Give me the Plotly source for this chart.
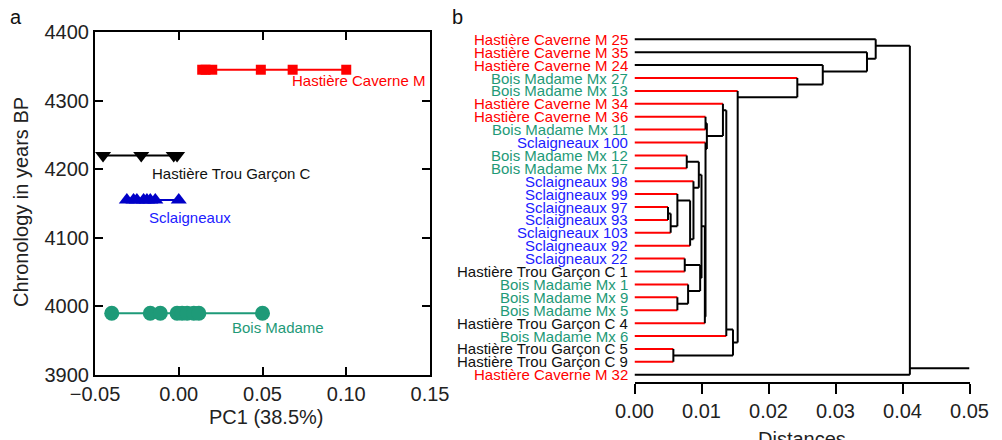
import plotly.graph_objects as go

# ---------------- Panel a data ----------------
group_names = ["Hastière Caverne M", "Hastière Trou Garçon C", "Sclaigneaux", "Bois Madame"]
chron_caverne = 4345
pc1_caverne = [0.014, 0.016, 0.020, 0.049, 0.068, 0.100]
chron_trou = 4220
pc1_trou = [-0.0452, -0.0224, -0.0030, -0.0010]
chron_scl = 4155
pc1_scl = [-0.031, -0.027, -0.025, -0.021, -0.019, -0.017, -0.014, 0.000]
chron_bois = 3990
pc1_bois = [-0.040, -0.017, -0.011, -0.001, 0.002, 0.005, 0.009, 0.012, 0.050]

# ---------------- Panel b data ----------------
leaves = [
    "Hastière Caverne M 25", "Hastière Caverne M 35", "Hastière Caverne M 24",
    "Bois Madame Mx 27", "Bois Madame Mx 13", "Hastière Caverne M 34",
    "Hastière Caverne M 36", "Bois Madame Mx 11", "Sclaigneaux 100",
    "Bois Madame Mx 12", "Bois Madame Mx 17", "Sclaigneaux 98", "Sclaigneaux 99",
    "Sclaigneaux 97", "Sclaigneaux 93", "Sclaigneaux 103", "Sclaigneaux 92",
    "Sclaigneaux 22", "Hastière Trou Garçon C 1", "Bois Madame Mx 1",
    "Bois Madame Mx 9", "Bois Madame Mx 5", "Hastière Trou Garçon C 4",
    "Bois Madame Mx 6", "Hastière Trou Garçon C 5", "Hastière Trou Garçon C 9",
    "Hastière Caverne M 32",
]
leaf_group = [
    "C", "C", "C", "B", "B", "C", "C", "B", "S", "B", "B", "S", "S", "S", "S", "S",
    "S", "S", "T", "B", "B", "B", "T", "B", "T", "T", "C",
]
black_branch_leaves = ["Hastière Caverne M 25", "Hastière Caverne M 35",
                       "Hastière Caverne M 24", "Hastière Caverne M 32"]

# (node, child 1, child 2, distance)
merges = [
    ("s1", "Sclaigneaux 97", "Sclaigneaux 93", 0.0050),
    ("s2", "s1", "Sclaigneaux 103", 0.0054),
    ("s3", "Sclaigneaux 99", "s2", 0.0064),
    ("s4", "s3", "Sclaigneaux 92", 0.0083),
    ("s5", "Sclaigneaux 98", "s4", 0.0088),
    ("b1", "Bois Madame Mx 12", "Bois Madame Mx 17", 0.0078),
    ("t1", "b1", "s5", 0.0096),
    ("m1", "Sclaigneaux 22", "Hastière Trou Garçon C 1", 0.0075),
    ("m2", "Bois Madame Mx 9", "Bois Madame Mx 5", 0.0064),
    ("m3", "Bois Madame Mx 1", "m2", 0.0080),
    ("m4", "m1", "m3", 0.0098),
    ("k3", "t1", "m4", 0.0100),
    ("k2", "k3", "Hastière Trou Garçon C 4", 0.0105),
    ("k1", "Sclaigneaux 100", "k2", 0.0106),
    ("y1", "Hastière Caverne M 36", "Bois Madame Mx 11", 0.0106),
    ("y2", "y1", "k1", 0.0108),
    ("h1", "Hastière Caverne M 34", "y2", 0.0132),
    ("g1", "h1", "Bois Madame Mx 6", 0.0137),
    ("g5", "Hastière Trou Garçon C 5", "Hastière Trou Garçon C 9", 0.0058),
    ("g2", "g1", "g5", 0.0147),
    ("e1", "Bois Madame Mx 13", "g2", 0.0154),
    ("d1", "Bois Madame Mx 27", "e1", 0.0243),
    ("c1", "Hastière Caverne M 24", "d1", 0.0281),
    ("bb", "Hastière Caverne M 35", "c1", 0.0347),
    ("aa", "Hastière Caverne M 25", "bb", 0.0360),
    ("root", "aa", "Hastière Caverne M 32", 0.0411),
]
root_stem_end = 0.05

RED = "#ff0000"
BLACK = "#000000"
GREEN = "#1e9a78"
BLUE_TXT = "#2020ff"
BLUE_MK = "#0000c8"
group_color = {"C": RED, "B": GREEN, "S": BLUE_TXT, "T": "#111111"}
FONT = "Arial, Liberation Sans, sans-serif"

# the page body has an 8 px margin: the figure fills the rest of the 1002x440 window
OFF = 8
W, H = 1002 - OFF, 440 - OFF


def fx(px):
    return (px - OFF) / W


def fy(py):
    return 1 - (py - OFF) / H


fig = go.Figure()

# ---------- panel a traces ----------
series = [
    (pc1_caverne, chron_caverne, RED, "square", 10),
    (pc1_trou, chron_trou, BLACK, "triangle-down", 14),
    (pc1_scl, chron_scl, BLUE_MK, "triangle-up", 14),
    (pc1_bois, chron_bois, GREEN, "circle", 15),
]
for (xs, yv, col, sym, sz), name in zip(series, group_names):
    fig.add_trace(go.Scatter(
        x=xs, y=[yv] * len(xs), mode="lines+markers", name=name,
        line=dict(color=col, width=2),
        marker=dict(symbol=sym, size=sz, color=col, line=dict(width=0)),
        xaxis="x", yaxis="y", showlegend=False, hoverinfo="skip", cliponaxis=False,
    ))

# ---------- dendrogram ----------
leaf_y = {name: i for i, name in enumerate(leaves)}
conn = dict(leaf_y)
height = {name: 0.0 for name in leaves}
is_leaf = {name: True for name in leaves}

bx, by, rx, ry = [], [], [], []
for node, a, b, h in merges:
    ya, yb = conn[a], conn[b]
    la, lb = is_leaf.get(a, False), is_leaf.get(b, False)
    if la and not lb:
        yn = ya + (0.5 if yb > ya else -0.5)
    elif lb and not la:
        yn = yb + (0.5 if ya > yb else -0.5)
    else:
        yn = (ya + yb) / 2
    for c, yc in ((a, ya), (b, yb)):
        if is_leaf.get(c, False) and c not in black_branch_leaves:
            rx += [height[c], h, None]
            ry += [yc, yc, None]
        else:
            bx += [height[c], h, None]
            by += [yc, yc, None]
    bx += [h, h, None]
    by += [ya, yb, None]
    conn[node] = yn
    height[node] = h
    is_leaf[node] = False

bx += [height["root"], root_stem_end, None]
by += [conn["root"], conn["root"], None]

fig.add_trace(go.Scatter(x=rx, y=ry, mode="lines", line=dict(color=RED, width=2),
                         xaxis="x2", yaxis="y2", showlegend=False, hoverinfo="skip",
                         cliponaxis=False))
fig.add_trace(go.Scatter(x=bx, y=by, mode="lines", line=dict(color=BLACK, width=2),
                         xaxis="x2", yaxis="y2", showlegend=False, hoverinfo="skip",
                         cliponaxis=False))

annotations = []
for name, g in zip(leaves, leaf_group):
    annotations.append(dict(
        x=0, y=leaf_y[name], xref="x2", yref="y2", text=name, showarrow=False,
        xanchor="right", yanchor="middle", xshift=-5,
        font=dict(family=FONT, size=15, color=group_color[g]),
    ))

label_pos = [
    (0.0664, 4329, RED),
    (-0.0172, 4194, "#111111"),
    (-0.0190, 4130, BLUE_TXT),
    (0.0306, 3969, GREEN),
]
for name, (lx, ly, col) in zip(group_names, label_pos):
    annotations.append(dict(
        x=lx, y=ly, xref="x", yref="y", text=name, showarrow=False,
        xanchor="left", yanchor="middle",
        font=dict(family=FONT, size=15, color=col),
    ))

annotations += [
    dict(x=fx(21), y=fy(202), xref="paper", yref="paper", text="Chronology in years BP",
         textangle=-90, showarrow=False, xanchor="center", yanchor="middle",
         font=dict(family=FONT, size=20, color="#222")),
    dict(x=fx(266), y=fy(417), xref="paper", yref="paper", text="PC1 (38.5%)",
         showarrow=False, xanchor="center", yanchor="middle",
         font=dict(family=FONT, size=20, color="#222")),
    dict(x=fx(802), y=fy(426), xref="paper", yref="paper", text="Distances",
         showarrow=False, xanchor="center", yanchor="top",
         font=dict(family=FONT, size=20, color="#222")),
    dict(x=fx(16), y=fy(17), xref="paper", yref="paper", text="a",
         showarrow=False, xanchor="center", yanchor="middle",
         font=dict(family=FONT, size=20, color="#111")),
    dict(x=fx(457), y=fy(17), xref="paper", yref="paper", text="b",
         showarrow=False, xanchor="center", yanchor="middle",
         font=dict(family=FONT, size=20, color="#111")),
]

axis_common = dict(showgrid=False, zeroline=False, showline=True, linecolor="black",
                   linewidth=2, tickcolor="black", tickwidth=2, automargin=False,
                   tickfont=dict(family=FONT, size=20, color="#222"))

fig.update_layout(
    width=W, height=H, margin=dict(l=0, r=0, t=0, b=0, pad=0, autoexpand=False),
    paper_bgcolor="white", plot_bgcolor="white",
    annotations=annotations,
    xaxis=dict(domain=[fx(95), fx(430)], range=[-0.05, 0.15], anchor="y",
               tickvals=[-0.05, 0, 0.05, 0.10, 0.15], tickformat=".2f",
               ticks="inside", ticklen=8, mirror="ticks", **axis_common),
    yaxis=dict(domain=[fy(375), fy(32)], range=[3900, 4400], anchor="x",
               tickvals=[3900, 4000, 4100, 4200, 4300, 4400],
               ticks="inside", ticklen=8, mirror="ticks", **axis_common),
    xaxis2=dict(domain=[fx(634.5), fx(969.5)], range=[0, 0.05], anchor="y2",
                tickvals=[0, 0.01, 0.02, 0.03, 0.04, 0.05], tickformat=".2f",
                ticks="outside", ticklen=10, **axis_common),
    yaxis2=dict(domain=[fy(381.7), fy(32)], range=[26.54, -0.566], anchor="x2",
                visible=False, showgrid=False, zeroline=False, automargin=False),
)

fig.write_html("out.html")
